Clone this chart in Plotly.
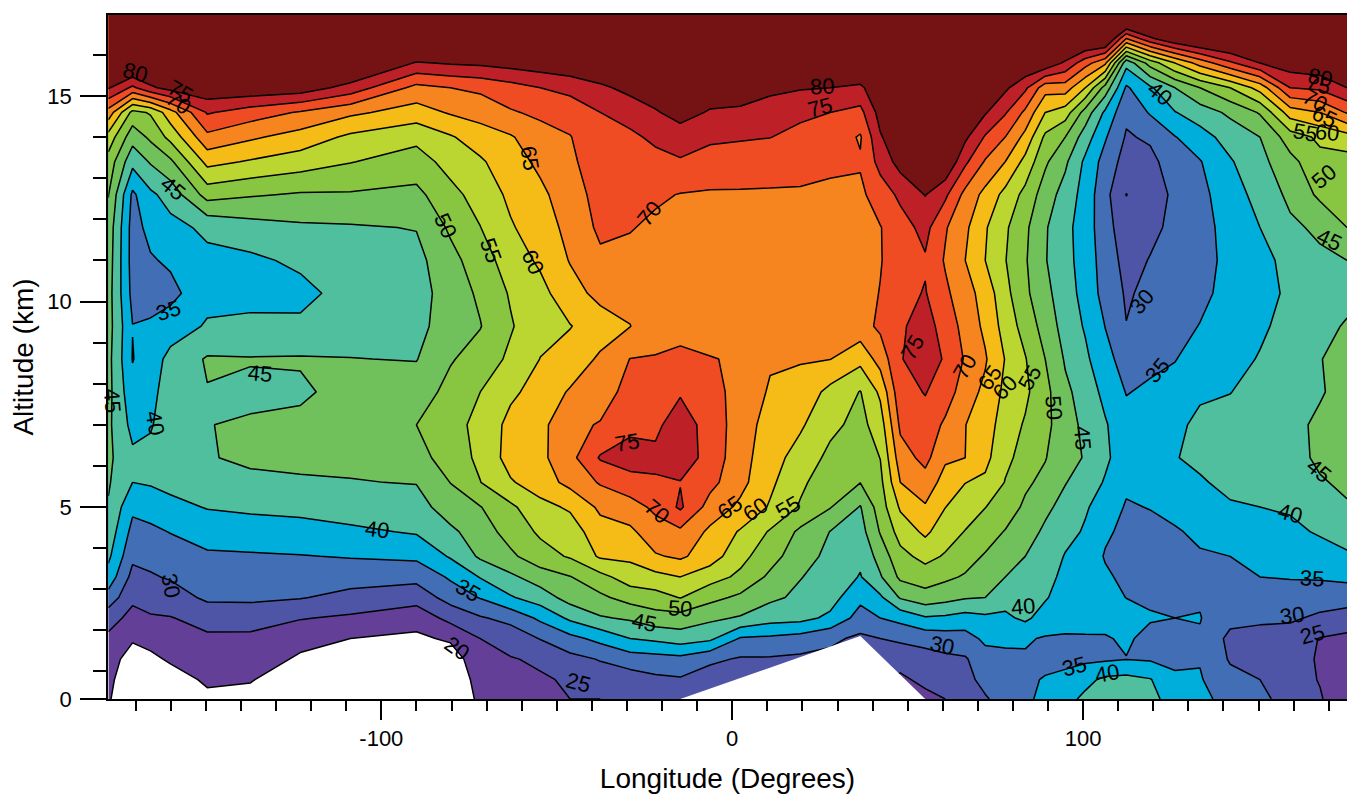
import plotly.graph_objects as go
import numpy as np

longitude = [-177.8,-170.9,-165.8,-160.1,-149.6,-137.3,-123.1,-108.8,-90,-80.3,-71.8,-63.2,-54.7,-46.2,-37.6,-29.1,-21.9,-14.8,-6.3,2.3,10.8,19.4,27.9,36.5,42.2,47.9,55,60.7,66.4,72.1,77.8,83.5,89.2,94.9,100.6,106.3,112.3,119.1,126.2,133.3,141.9,150.4,159,167.5,175.2]
altitude = [0.33,0.8,1.3,1.8,2.3,2.8,3.3,3.8,4.4,5,5.6,6.2,7,7.8,8.6,9.4,10.2,11,11.8,12.6,13.4,14,14.6,15.2,15.8,16.4,16.97]

values_by_longitude = [
[21,22,23,24,27,33,38,41,43,44.6,45.5,46,46,46.5,46.5,47,47,47.5,48,50.2,53,58,68,80.5,88,92,95],
[12,14,17,20.8,23.5,26,28.5,31,33.5,36,40,41,38.5,36.5,34.8,35.1,33.5,33,33,34,41.5,47,53.5,74,88,92,95],
[12,15,19,21.5,24.5,27,29.5,31.5,34,37,40.5,41.5,39.5,38.5,37.5,35.5,33.5,34.5,36.5,39,45.5,51,55.5,79,88,92,95],
[15,18,20.6,22.5,24.8,27.5,30.5,32.5,35.2,38.5,41.5,43,43,42.5,41.5,37.5,33.5,35.8,38.5,42,49,56.5,63,82,88,92,95],
[19,20.7,22.5,24.3,26.5,31,32.5,34.3,37,40.3,43,44.7,44.9,44.8,45.5,40.5,38.5,38.8,41,52,61.5,68.7,75.5,84,88,92,95],
[19,20.2,22.5,24,27,31,33,34.5,37.5,41,44,45.8,45.5,44,45.3,40.7,39,39,43,50.5,59.5,65.8,72.5,84,88,92,95],
[17,18,19.3,21.5,25.3,30.3,32.5,34.8,38,41.5,44.5,46,46,44.3,45.4,41,38.5,41,44.2,49.5,57.5,63,69.5,83,88,92,95],
[15,16.5,18,20,24.2,28.5,32,35.3,39,42.5,44.8,46,47,46.5,45.1,43,42,42.5,44.5,49.5,55.2,59,66,78,88,92,95],
[12,14,16.5,19,22,27,31.5,36,40.5,43,45.2,48,50,47.5,44.8,43.2,42.8,43.5,45.2,48.7,52.8,56.3,62.8,68.5,79.5,90,95],
[12,14,17,20.8,26.5,32,35.7,40.5,44,47.5,50.1,52.5,53.5,51.5,49.6,48,47.5,48.5,50.8,53.5,56.8,59.5,65.5,70,80.5,90,95],
[22,23,23.7,25,29.5,35.3,40.3,45.8,47.5,49.8,54.9,56,56.2,55,52,49.8,50.8,52.5,54.9,57,59.3,62.5,67,71,81,90,95],
[23,24,24.7,27,31.5,39.5,44,49,52,54,59.5,62,61.5,59,56,54.5,55.5,57.5,59.5,61,63,64.5,69.5,73,82,90,95],
[23.5,24.5,25.7,30.2,36,42.5,47.5,53,55.8,58.5,62.5,63.8,63.5,62,60.1,58.5,58.5,60.8,62.5,64,66,68,71,75,83,90,95],
[25,25.5,28.5,33.5,41,47,49.8,55.5,57.5,60.7,66.5,68.5,69,65.5,62,59.8,63,65.3,66.5,67.5,69,69.8,72,76.5,84,90,95],
[25,27.5,30.3,36.5,44.5,49,53.5,60.7,63,66,70.5,75.5,70.3,68,65.8,62.5,66.5,69,71,72,73,73.5,75,79,85,90,95],
[26,27.5,32.5,40,45.7,52,57.5,61,64,68,73,77.5,73.5,71.5,70.1,64.9,66.5,68.5,70.3,71.5,72.5,74,77,81.5,86,90,95],
[27,29,33,41,48,53,58.5,64.5,68,71,74.5,76,74,72,70.3,68,67.5,68,69,70.8,73.5,76,79.5,83,86,90,95],
[27,29.5,33.5,42.5,48,55.2,60,65.8,69,75.8,74.8,78,77.5,74.5,71,68.5,68,68,68.5,69.8,74.5,77.5,82,85,87,90,95],
[26,27.5,31,41,46,51.5,57,62.5,64,68,71.5,73,73,72,70.2,68,67,67,68,69.5,72.8,76,79.5,83,86,90,95],
[27,27.5,29.5,34.5,44.5,49,54,56.5,59.5,64,66.5,67,67.5,68,69.5,67.5,67,67,68,69.5,72.5,75.5,79,83,86,90,95],
[26.5,27.5,29.5,34,42,46,49,52,54.5,59.5,61,62,63,64.5,65.5,66.5,67,67.5,68.5,69.5,72,75.1,78,81,86,90,95],
[27,28,29,33,41.5,44,45.2,47,49,54.5,56,58,60.7,63.5,65.3,66.5,67,67.5,68.5,69.5,71.5,73.5,76.1,80.4,86,90,95],
[27,28,28.7,31,39,42,43,43.8,44.9,50.3,52,53.8,56.2,58.5,65.1,66.5,67,67.5,68.5,69,71,73,75,80,86,90,95],
[25,25.5,26,29,33,36.2,39.7,41,43,44.7,50.1,52,53.5,54.8,61.5,68,68,68,68.5,69,70.5,69.5,73.5,79,86,90,95],
[25,25.5,27,30,35,39.2,44.5,47,50.4,52.5,53.7,55.1,57.5,61,67,71,70.2,69.7,69.8,72.5,76.7,79.5,82,84,86,90,95],
[20,24,27,30.8,36.5,45.5,51,53.5,57,60.7,65,67.7,71,73.5,74.7,74.5,73.5,73,73,76,82,84,85,86,87,90,95],
[23.5,26.3,28,31.8,39.5,48,52.5,56.5,61,64.5,68,71.5,73.5,75.2,77.5,76.5,75.3,74.5,76.5,80.2,85,86,87,88,88,90,95],
[25,27.5,29,32.5,39,46.8,51,54.5,57.3,60.1,63,65.8,69,73,74.5,73.5,71,69.5,70.5,76,85,86,87,88,88,90,95],
[27,28.5,29.5,33,38,45.5,49.5,52,54.8,57.5,60.1,65,65.1,67,69.5,68,67,65,66,68.5,76,81,85,87,88,90,95],
[29.5,31.5,33,36,39,45,47,49.5,52.5,55.1,59,61.5,62.5,64,65.5,64,63,60,60.5,63.5,69.5,74.5,80.5,85,88,90,95],
[32,33,33.8,36,39,42,45,47.5,49.7,53,54.8,56,57.5,58.8,59.8,58,56.5,55.2,55.8,58.5,65,70,75.5,81,88,90,95],
[33.5,34,34.5,35.5,41,43,44,45,47,49,51,53.5,54.5,56,55.3,53,51,50.5,51,53.5,58.5,63.5,69,76,85,90,95],
[37,35.4,33.5,34.6,37.8,40.5,41.7,42.9,44.2,46,48.5,50.3,51.5,51.5,50,48,46.5,45.3,45.5,47.5,50.8,54,60,67,84,90,95],
[38.5,36,34,34.7,36,37.5,38.7,39.7,41.5,43.5,45.2,46,46.8,46,44.5,43,42,41.5,41.5,43,45.9,50,57.5,67.5,79,90,95],
[41,38.7,34,34.6,36.5,37.5,38.3,39,39.5,40.5,43,44.8,44,43,41,39.5,38.5,38,37.5,38,39,42.5,48,60,72,88,95],
[42.5,41,34.3,34.7,36.2,37,36,34.5,36,38,39.5,41,40.5,38.5,36.5,34.9,33,32.5,32,31.5,33,35.5,39,48,66,88,95],
[44,41.5,34.9,35.5,37.5,34.9,33.5,33,33.5,34.5,36,37,36.5,34.8,33,30.1,29.5,28.5,27,24.9,28,29.5,31,34.3,41.5,70,95],
[42,40.3,34.5,34,35.3,34.5,33.5,33,33.5,35.2,36.5,37,36.5,35.7,34,32.5,31,30.2,29,27.5,28.7,30.7,35.5,39.2,52,79,95],
[37,35.8,34,33.5,35,34.7,34,33.5,34.5,36.5,38,39.8,38.5,37,34.8,33,32,31.5,31,31,32.5,34.8,39.8,45,60,85,95],
[36.5,35.4,34.7,34.5,35.2,34.5,34,34.5,36,38,39.5,41,41.5,39,37.5,35.2,33.5,33,33,33.5,34.7,38,42.5,50,67,88,95],
[33,31.5,29.5,28.7,31.5,33,34.3,35,37.5,39.5,41.2,42.5,43,39.8,39,38,37,36.5,37,38,39.5,42,46,55,74,89,95],
[31.5,30,28.5,28,31,33,35,37,39,40,41.5,42.5,43.5,43,40.2,39.5,39,39,40,41.5,43.5,45,50.5,62,80,90,95],
[27.5,27.5,27,27.5,30.8,33,35.3,37,39,40.5,41.5,43,43.5,43,42,41,40.5,41,44,46.2,48.5,52.5,62.5,75,83,91,95],
[25.5,24.7,24.5,24.8,29,32.5,35.5,38,40.5,42.5,44.5,46,46,44.5,44.9,43.5,43,44,46,51,53.5,56,65,76,84,91,95],
[21,21.5,22,24,27.5,32.5,36,39.5,41.5,44.5,46,47,47.5,47,46,45.5,43.5,45,50,51.5,53,58,70.5,80,86,91,95],
]

no_data_lon = [-14.8, 36.5, 55]
no_data_alt = [0.33, 1.86, 0.33]

band_colors = ["#ffffff","#633f98","#4f55a6","#416eb5","#00aedb","#50bf9e","#70c05c",
               "#88c540","#bbd531","#f5bb16","#f6851f","#f04c23","#bd2026","#751214"]

x_major = [-100, 0, 100]
x_major_text = ["-100", "0", "100"]
x_minor = [v for v in range(-170, 180, 10) if v not in x_major]
y_major = [0.33, 5, 10, 15]
y_major_text = ["0", "5", "10", "15"]
y_minor = [1, 2, 3, 4, 6, 7, 8, 9, 11, 12, 13, 14, 16]

# contour labels: level, longitude, altitude, slope of the line under the text
label_level = [80,75,70,45,35,45,45,40,30,40,20,35,50,55,60,65,70,75,80,75,70,65,60,55,50,45,25,30,40,35,40,50,45,75,70,65,60,55,40,30,35,80,75,70,65,55,60,50,45,40,35,30,25,45]
label_lon = [-170.1,-157.3,-157.9,-159.3,-160.7,-134.5,-176.6,-164.4,-160.1,-101.1,-78.3,-75.2,-81.8,-68.7,-56.7,-57.6,-23.6,25,25.6,-29.9,-21.4,-0.6,6.5,15.9,-14.8,-25.1,-44,59.8,82.9,97.4,106.8,91.5,99.7,51.3,66.4,73.5,77.8,84.9,121.9,116.8,121.1,167.5,166.9,166.1,168.7,163.2,169.5,168.7,170.1,159,165.2,159.5,165.2,167.2]
label_alt = [15.56,15.10,14.83,12.76,9.79,8.26,7.60,7.04,3.08,4.46,1.57,2.98,11.84,11.25,10.96,13.49,12.15,14.71,15.24,6.56,4.90,4.98,4.95,4.98,2.52,2.18,0.72,1.64,2.57,1.13,0.94,7.41,6.68,8.89,8.41,8.14,7.90,8.14,15.07,9.99,8.33,15.44,15.27,14.90,14.49,14.10,14.10,13.03,11.50,4.85,3.27,2.35,1.91,5.90]
label_angle = [15,30,35,40,-18,5,85,80,80,7,35,30,65,70,65,80,-50,-15,-3,-10,40,-35,-35,-30,3,12,15,12,-5,-15,-10,85,85,-60,-60,-55,-45,-60,40,-50,-50,10,15,30,25,10,5,-40,25,15,3,-8,-15,40]

n = len(band_colors)
colorscale = []
for i, c in enumerate(band_colors):
    colorscale += [[i / n, c], [(i + 1) / n, c]]

FONT = "Liberation Sans, Arial, sans-serif"
z = np.array(values_by_longitude).T

fig = go.Figure()
fig.add_trace(go.Contour(
    x=longitude, y=altitude, z=z, zmin=15, zmax=85, zauto=False, autocontour=False,
    colorscale=colorscale, showscale=False, hoverinfo="skip",
    contours=dict(start=20, end=80, size=5, coloring="fill", showlabels=False),
    line=dict(color="black", width=1.5, smoothing=0),
))
fig.add_trace(go.Scatter(x=no_data_lon, y=no_data_alt, mode="lines", fill="toself",
                         fillcolor="white", line=dict(width=0), hoverinfo="skip", showlegend=False))

for lev, lo, al, ang in zip(label_level, label_lon, label_alt, label_angle):
    fig.add_annotation(x=lo, y=al, xref="x", yref="y", text=str(lev), showarrow=False, textangle=ang,
                       font=dict(size=22, color="black", family=FONT))

fig.update_layout(
    width=1347, height=796, margin=dict(l=108, r=0, t=15, b=97),
    paper_bgcolor="white", plot_bgcolor="white", showlegend=False,
    font=dict(family=FONT, size=22, color="black"),
    xaxis=dict(range=[-177.9, 175.2], tickvals=x_major, ticktext=x_major_text, ticks="outside",
               ticklen=19, tickwidth=1.5, tickcolor="black", showgrid=False, zeroline=False,
               showline=True, linecolor="black", linewidth=1.5, mirror=True, layer="above traces",
               tickfont=dict(size=22), title=dict(text="Longitude (Degrees)", font=dict(size=28), standoff=18),
               minor=dict(tickvals=x_minor, ticks="outside", ticklen=10, tickwidth=1.5, tickcolor="black", showgrid=False)),
    yaxis=dict(range=[0.33, 16.97], tickvals=y_major, ticktext=y_major_text, ticks="outside",
               ticklen=26, tickwidth=1.5, tickcolor="black", showgrid=False, zeroline=False, ticklabelstandoff=4,
               showline=True, linecolor="black", linewidth=1.5, layer="above traces",
               tickfont=dict(size=22), title=dict(text="Altitude (km)", font=dict(size=28), standoff=6),
               minor=dict(tickvals=y_minor, ticks="outside", ticklen=13, tickwidth=1.5, tickcolor="black", showgrid=False)),
)
fig.write_html("out.html", config=dict(displayModeBar=False),
               post_script="document.body.style.margin='0';document.body.style.overflow='hidden';")
